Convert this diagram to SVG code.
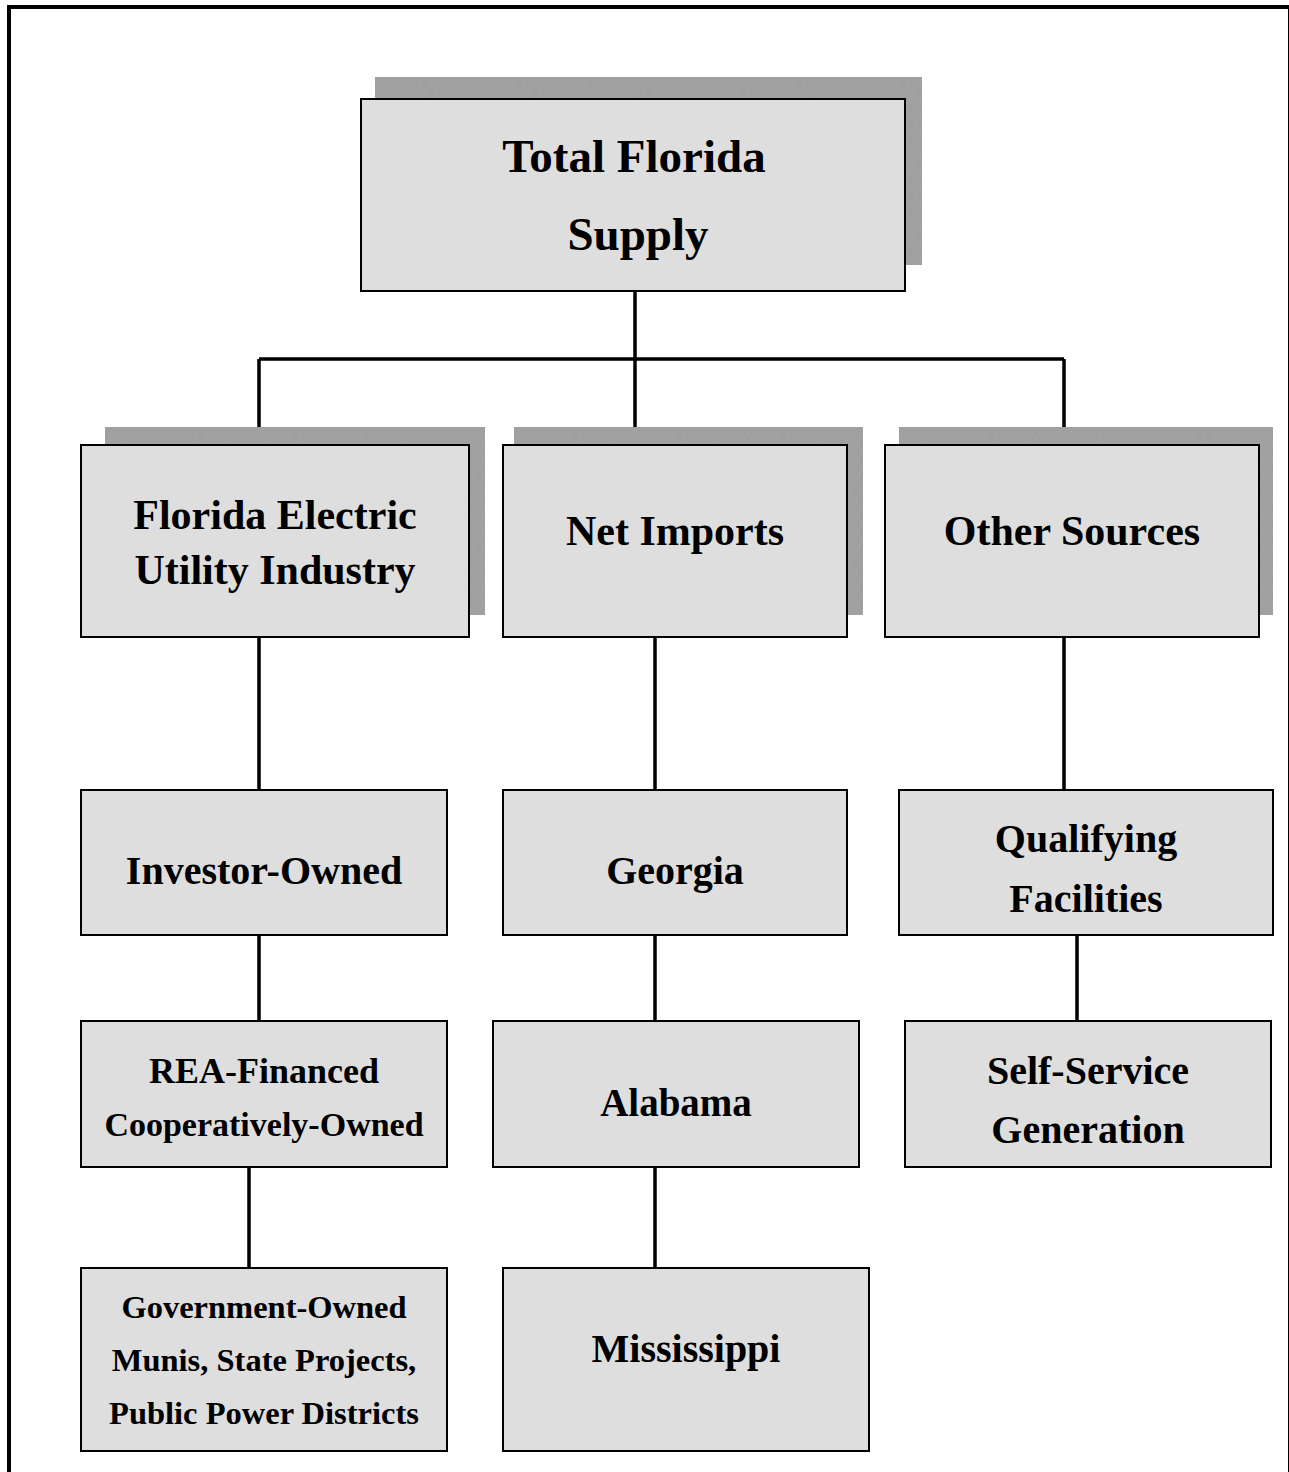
<svg xmlns="http://www.w3.org/2000/svg" width="1289" height="1472" viewBox="0 0 1289 1472">
<defs>
<pattern id="hatch" width="9" height="9" patternUnits="userSpaceOnUse" patternTransform="rotate(30)">
<rect width="9" height="9" fill="#a0a0a0"/>
<line x1="0" y1="0" x2="0" y2="9" stroke="#aaaaaa" stroke-width="1"/>
</pattern>
</defs>
<style>
.box{fill:#dedede;stroke:#000;stroke-width:2}
.sh{fill:url(#hatch)}
.t{font-family:"Liberation Serif","Times New Roman",serif;font-weight:bold;fill:#000;text-anchor:middle}
.c{stroke:#000;stroke-width:3.5;fill:none}
</style>
<rect x="9" y="7" width="1281" height="1480" fill="#fff" stroke="#000" stroke-width="4"/>
<g id="connectors">
<path class="c" d="M635 291V359M259 359H1064M259 359V445M635 359V445M1064 359V445"/>
<path class="c" d="M259 637V790M655 637V790M1064 637V790"/>
<path class="c" d="M259 935V1021M655 935V1021M1077 935V1021"/>
<path class="c" d="M249 1167V1268M655 1167V1268"/>
</g>
<g id="total">
<rect class="sh" x="375" y="77" width="547" height="188"/>
<rect class="box" x="361" y="99" width="544" height="192"/>
<text class="t" x="634" y="172" font-size="47">Total Florida</text>
<text class="t" x="638" y="250" font-size="47">Supply</text>
</g>
<g id="feui">
<rect class="sh" x="105" y="427" width="380" height="188"/>
<rect class="box" x="81" y="445" width="388" height="192"/>
<text class="t" x="275" y="529" font-size="42">Florida Electric</text>
<text class="t" x="275" y="584" font-size="42">Utility Industry</text>
</g>
<g id="netimports">
<rect class="sh" x="514" y="427" width="349" height="188"/>
<rect class="box" x="503" y="445" width="344" height="192"/>
<text class="t" x="675" y="545" font-size="42">Net Imports</text>
</g>
<g id="other">
<rect class="sh" x="899" y="427" width="374" height="188"/>
<rect class="box" x="885" y="445" width="374" height="192"/>
<text class="t" x="1072" y="545" font-size="42">Other Sources</text>
</g>
<g id="investor">
<rect class="box" x="81" y="790" width="366" height="145"/>
<text class="t" x="264" y="884" font-size="40">Investor-Owned</text>
</g>
<g id="georgia">
<rect class="box" x="503" y="790" width="344" height="145"/>
<text class="t" x="675" y="884" font-size="40">Georgia</text>
</g>
<g id="qf">
<rect class="box" x="899" y="790" width="374" height="145"/>
<text class="t" x="1086" y="852" font-size="40">Qualifying</text>
<text class="t" x="1086" y="912" font-size="40">Facilities</text>
</g>
<g id="rea">
<rect class="box" x="81" y="1021" width="366" height="146"/>
<text class="t" x="264" y="1083" font-size="36">REA-Financed</text>
<text class="t" x="264" y="1136" font-size="34">Cooperatively-Owned</text>
</g>
<g id="alabama">
<rect class="box" x="493" y="1021" width="366" height="146"/>
<text class="t" x="676" y="1116" font-size="39">Alabama</text>
</g>
<g id="selfservice">
<rect class="box" x="905" y="1021" width="366" height="146"/>
<text class="t" x="1088" y="1084" font-size="40">Self-Service</text>
<text class="t" x="1088" y="1143" font-size="40">Generation</text>
</g>
<g id="govt">
<rect class="box" x="81" y="1268" width="366" height="183"/>
<text class="t" x="264" y="1318" font-size="32.5">Government-Owned</text>
<text class="t" x="264" y="1371" font-size="32.5">Munis, State Projects,</text>
<text class="t" x="264" y="1424" font-size="32.5">Public Power Districts</text>
</g>
<g id="mississippi">
<rect class="box" x="503" y="1268" width="366" height="183"/>
<text class="t" x="686" y="1362" font-size="40">Mississippi</text>
</g>
</svg>
